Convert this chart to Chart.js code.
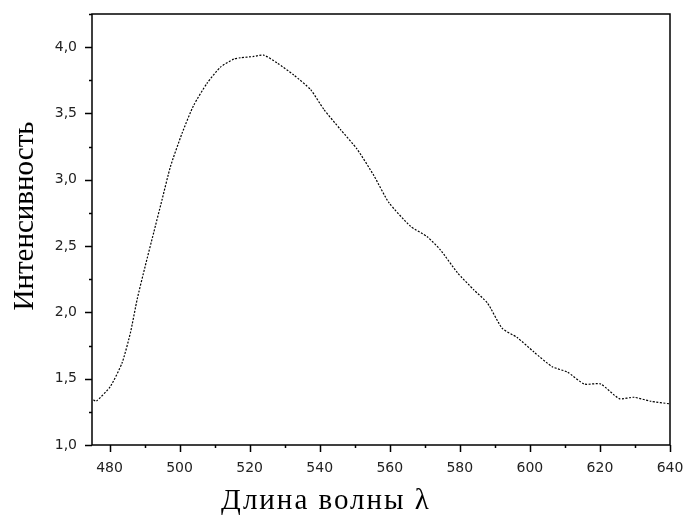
<!DOCTYPE html>
<html>
<head>
<meta charset="utf-8">
<script src="https://cdn.jsdelivr.net/npm/chart.js@4.4.1/dist/chart.umd.min.js"></script>
<style>
  html, body { margin: 0; padding: 0; background: #fff; }
  #wrap { width: 685px; height: 516px; position: relative; }
</style>
</head>
<body>
<div id="wrap"><canvas id="c"></canvas></div>
<script>
const wavelength = [475.4, 476.2, 480.2, 483.6, 486, 487.9, 490.2, 492.6, 495, 497.4, 500.7, 504, 507.9, 511.7, 515.5,
  517.4, 521.2, 524, 527.9, 532.6, 537.4, 541.2, 545.9, 550.7, 555.5, 559.7, 565.9, 570.7, 574.5, 579.3,
  584, 587.9, 592.1, 596.4, 601.2, 606.4, 610.7, 615.5, 620.2, 625.5, 629.7, 634.5, 640];
const intensity = [1.34, 1.33, 1.44, 1.62, 1.85, 2.10, 2.35, 2.60, 2.85, 3.10, 3.35, 3.56, 3.73, 3.85, 3.91,
  3.92, 3.93, 3.94, 3.88, 3.79, 3.68, 3.53, 3.38, 3.23, 3.03, 2.83, 2.65, 2.57, 2.47, 2.30,
  2.17, 2.07, 1.88, 1.81, 1.70, 1.59, 1.55, 1.46, 1.46, 1.35, 1.36, 1.33, 1.31];
const xTicks = [480, 490, 500, 510, 520, 530, 540, 550, 560, 570, 580, 590, 600, 610, 620, 630, 640];
const yTicks = [1, 1.25, 1.5, 1.75, 2, 2.25, 2.5, 2.75, 3, 3.25, 3.5, 3.75, 4, 4.25];
const xTitle = 'Длина волны λ';
const yTitle = 'Интенсивность';

const tickFont = { family: 'DejaVu Sans', size: 14 };
const titleFont = '29px "Liberation Serif"';

const isHalf = v => Math.abs(v * 2 - Math.round(v * 2)) < 1e-6;

// frame, outward tick marks (major/minor) and axis titles
const decor = {
  id: 'decor',
  afterDraw(chart) {
    const { ctx, chartArea: a, scales: { x, y } } = chart;
    ctx.save();
    ctx.strokeStyle = '#000';
    ctx.lineWidth = 1.5;
    ctx.strokeRect(a.left, a.top, a.right - a.left, a.bottom - a.top);
    ctx.beginPath();
    x.ticks.forEach(t => {
      const px = Math.round(x.getPixelForValue(t.value)) + 0.5;
      const len = t.value % 20 === 0 ? 7 : 3;
      ctx.moveTo(px, a.bottom);
      ctx.lineTo(px, a.bottom + len);
    });
    y.ticks.forEach(t => {
      const py = Math.round(y.getPixelForValue(t.value)) + 0.5;
      ctx.moveTo(a.left, py);
      ctx.lineTo(a.left - (isHalf(t.value) ? 7 : 3), py);
    });
    ctx.stroke();

    ctx.fillStyle = '#000';
    ctx.font = titleFont;
    ctx.textAlign = 'center';
    ctx.textBaseline = 'alphabetic';
    ctx.letterSpacing = '2px';
    ctx.fillText(xTitle, 326, 509);
    ctx.letterSpacing = '0px';
    ctx.translate(33, 216);
    ctx.rotate(-Math.PI / 2);
    ctx.fillText(yTitle, 0, 0);
    ctx.restore();
  }
};

new Chart(document.getElementById('c'), {
  type: 'scatter',
  data: {
    datasets: [{
      data: wavelength.map((w, i) => ({ x: w, y: intensity[i] })),
      showLine: true,
      borderColor: '#000',
      borderWidth: 1.2,
      borderDash: [2, 1.5],
      pointRadius: 0,
      tension: 0.2,
      fill: false
    }]
  },
  options: {
    responsive: true,
    maintainAspectRatio: false,
    animation: false,
    layout: { padding: { top: 14, right: 15, left: 0, bottom: 0 } },
    plugins: { legend: { display: false }, tooltip: { enabled: false } },
    scales: {
      x: {
        type: 'linear',
        min: 475, max: 640,
        afterBuildTicks: s => { s.ticks = xTicks.map(v => ({ value: v })); },
        afterFit: s => { s.height = 71; s.paddingLeft = 0; s.paddingRight = 0; },
        border: { display: false },
        grid: { display: false, drawTicks: false },
        ticks: {
          autoSkip: false,
          maxRotation: 0,
          padding: 15,
          color: '#222',
          font: tickFont,
          callback: v => (v % 20 === 0 ? String(v) : '')
        }
      },
      y: {
        type: 'linear',
        min: 1, max: 4.25,
        afterBuildTicks: s => { s.ticks = yTicks.map(v => ({ value: v })); },
        afterFit: s => { s.width = 92; s.paddingTop = 0; s.paddingBottom = 0; },
        border: { display: false },
        grid: { display: false, drawTicks: false },
        ticks: {
          autoSkip: false,
          padding: 15,
          color: '#222',
          font: tickFont,
          callback: v => (isHalf(v) ? v.toFixed(1).replace('.', ',') : '')
        }
      }
    }
  },
  plugins: [decor]
});
</script>
</body>
</html>
